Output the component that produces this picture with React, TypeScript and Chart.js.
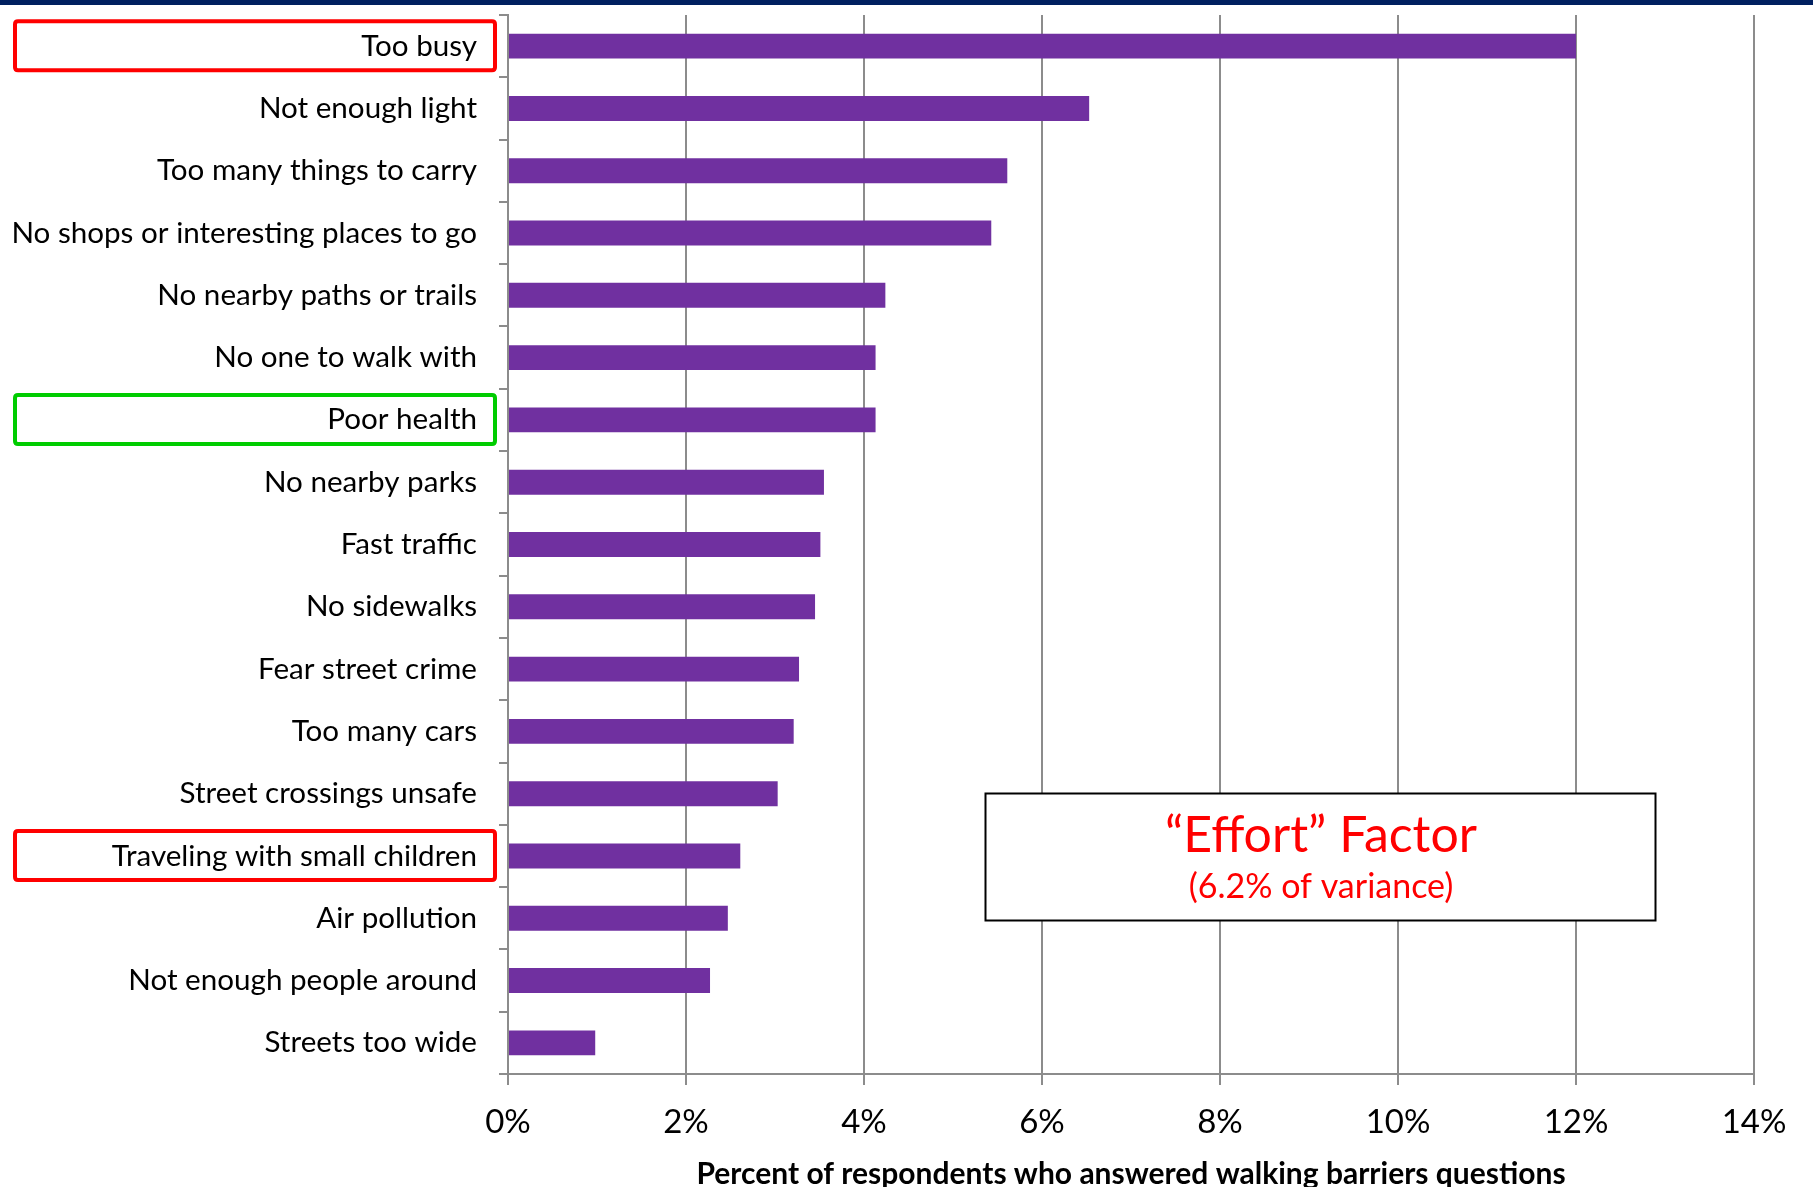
import { useEffect, useRef } from 'react';
import { Chart, registerables } from 'chart.js';

Chart.register(...registerables);

// Walking barriers, listed top to bottom
const categories = [
  'Too busy',
  'Not enough light',
  'Too many things to carry',
  'No shops or interesting places to go',
  'No nearby paths or trails',
  'No one to walk with',
  'Poor health',
  'No nearby parks',
  'Fast traffic',
  'No sidewalks',
  'Fear street crime',
  'Too many cars',
  'Street crossings unsafe',
  'Traveling with small children',
  'Air pollution',
  'Not enough people around',
  'Streets too wide',
];

// Percent of respondents naming each barrier
const percentages = [
  12.0, 6.53, 5.61, 5.43, 4.24, 4.13, 4.13, 3.55, 3.51, 3.45, 3.27, 3.21, 3.03, 2.61, 2.47, 2.27, 0.98,
];

const axisMin = 0;
const axisMax = 14;
const axisStep = 2;

const axisTitle = 'Percent of respondents who answered walking barriers questions';

// Labels outlined on the category axis
const outlinedLabels = [
  { label: 'Too busy', color: '#FF0000' },
  { label: 'Poor health', color: '#00CC00' },
  { label: 'Traveling with small children', color: '#FF0000' },
];

const noteTitle = '\u201CEffort\u201D Factor';
const noteSubtitle = '(6.2% of variance)';

const FONT = 'Lato, "Open Sans", sans-serif';
const WIDTH = 1813;
const HEIGHT = 1187;

function roundRect(ctx: CanvasRenderingContext2D, x: number, y: number, w: number, h: number, r: number) {
  ctx.beginPath();
  ctx.moveTo(x + r, y);
  ctx.lineTo(x + w - r, y);
  ctx.quadraticCurveTo(x + w, y, x + w, y + r);
  ctx.lineTo(x + w, y + h - r);
  ctx.quadraticCurveTo(x + w, y + h, x + w - r, y + h);
  ctx.lineTo(x + r, y + h);
  ctx.quadraticCurveTo(x, y + h, x, y + h - r);
  ctx.lineTo(x, y + r);
  ctx.quadraticCurveTo(x, y, x + r, y);
  ctx.closePath();
}

const decorations = {
  id: 'decorations',
  beforeDraw(chart: any) {
    const ctx = chart.ctx as CanvasRenderingContext2D;
    ctx.save();
    ctx.fillStyle = '#FFFFFF';
    ctx.fillRect(0, 0, chart.width, chart.height);
    // navy strip along the top edge
    ctx.fillStyle = '#002060';
    ctx.fillRect(0, 0, chart.width, 5);
    ctx.restore();
  },
  afterDraw(chart: any) {
    const ctx = chart.ctx as CanvasRenderingContext2D;
    const yScale = chart.scales.y;
    ctx.save();

    // outlines around selected category labels
    ctx.lineWidth = 4;
    outlinedLabels.forEach(({ label, color }) => {
      const i = categories.indexOf(label);
      const cy = yScale.getPixelForValue(i) - 0.5;
      ctx.strokeStyle = color;
      roundRect(ctx, 15, cy - 24.5, 480, 49, 3);
      ctx.stroke();
    });

    // factor note box
    const bx = 985.5;
    const by = 793.5;
    const bw = 670;
    const bh = 127;
    ctx.fillStyle = '#FFFFFF';
    ctx.fillRect(bx, by, bw, bh);
    ctx.strokeStyle = '#000000';
    ctx.lineWidth = 2;
    ctx.strokeRect(bx, by, bw, bh);

    ctx.fillStyle = '#FF0000';
    ctx.textAlign = 'center';
    ctx.textBaseline = 'alphabetic';
    ctx.font = `50px ${FONT}`;
    ctx.fillText(noteTitle, 1321, 852);
    ctx.font = `34px ${FONT}`;
    ctx.fillText(noteSubtitle, 1321, 898);

    ctx.restore();
  },
};

export default function App() {
  const canvasRef = useRef<HTMLCanvasElement | null>(null);

  useEffect(() => {
    const canvas = canvasRef.current;
    if (!canvas) return;
    const chart = new Chart(canvas, {
      type: 'bar',
      data: {
        labels: categories,
        datasets: [
          {
            data: percentages,
            backgroundColor: '#7030A0',
            borderWidth: 0,
            barPercentage: 0.4,
            categoryPercentage: 1,
          },
        ],
      },
      options: {
        indexAxis: 'y',
        responsive: false,
        animation: false,
        devicePixelRatio: 1,
        layout: { padding: { top: 15, right: 59, bottom: 0, left: 0 } },
        plugins: {
          legend: { display: false },
          tooltip: { enabled: false },
          title: { display: false },
        },
        scales: {
          x: {
            type: 'linear',
            min: axisMin,
            max: axisMax,
            ticks: {
              stepSize: axisStep,
              color: '#000000',
              font: { family: FONT, size: 33 },
              padding: 18,
              callback: (v: any) => `${v}%`,
            },
            grid: {
              color: '#8C8C8C',
              lineWidth: 2,
              tickLength: 11,
              drawTicks: true,
            },
            border: { display: true, color: '#8C8C8C', width: 2 },
            title: {
              display: true,
              text: axisTitle,
              color: '#000000',
              font: { family: FONT, size: 30, weight: 'bold', lineHeight: 0.85 },
              padding: { top: 0, bottom: 0 },
            },
            afterFit: (scale: any) => {
              scale.height = 113;
              scale.paddingLeft = 0;
              scale.paddingRight = 0;
            },
          },
          y: {
            type: 'category',
            ticks: {
              color: '#000000',
              font: { family: FONT, size: 29.6 },
              padding: 22,
              autoSkip: false,
            },
            grid: {
              display: true,
              drawOnChartArea: false,
              drawTicks: true,
              tickLength: 9,
              color: '#8C8C8C',
              lineWidth: 2,
              offset: true,
            },
            border: { display: true, color: '#8C8C8C', width: 2 },
            afterFit: (scale: any) => {
              scale.width = 508;
              scale.paddingTop = 0;
              scale.paddingBottom = 0;
            },
          },
        },
      },
      plugins: [decorations],
    });
    return () => chart.destroy();
  }, []);

  return (
    <div style={{ position: 'absolute', left: 0, top: 0, width: WIDTH, height: HEIGHT, background: '#FFFFFF' }}>
      <canvas ref={canvasRef} width={WIDTH} height={HEIGHT} style={{ display: 'block', width: WIDTH, height: HEIGHT }} />
    </div>
  );
}
